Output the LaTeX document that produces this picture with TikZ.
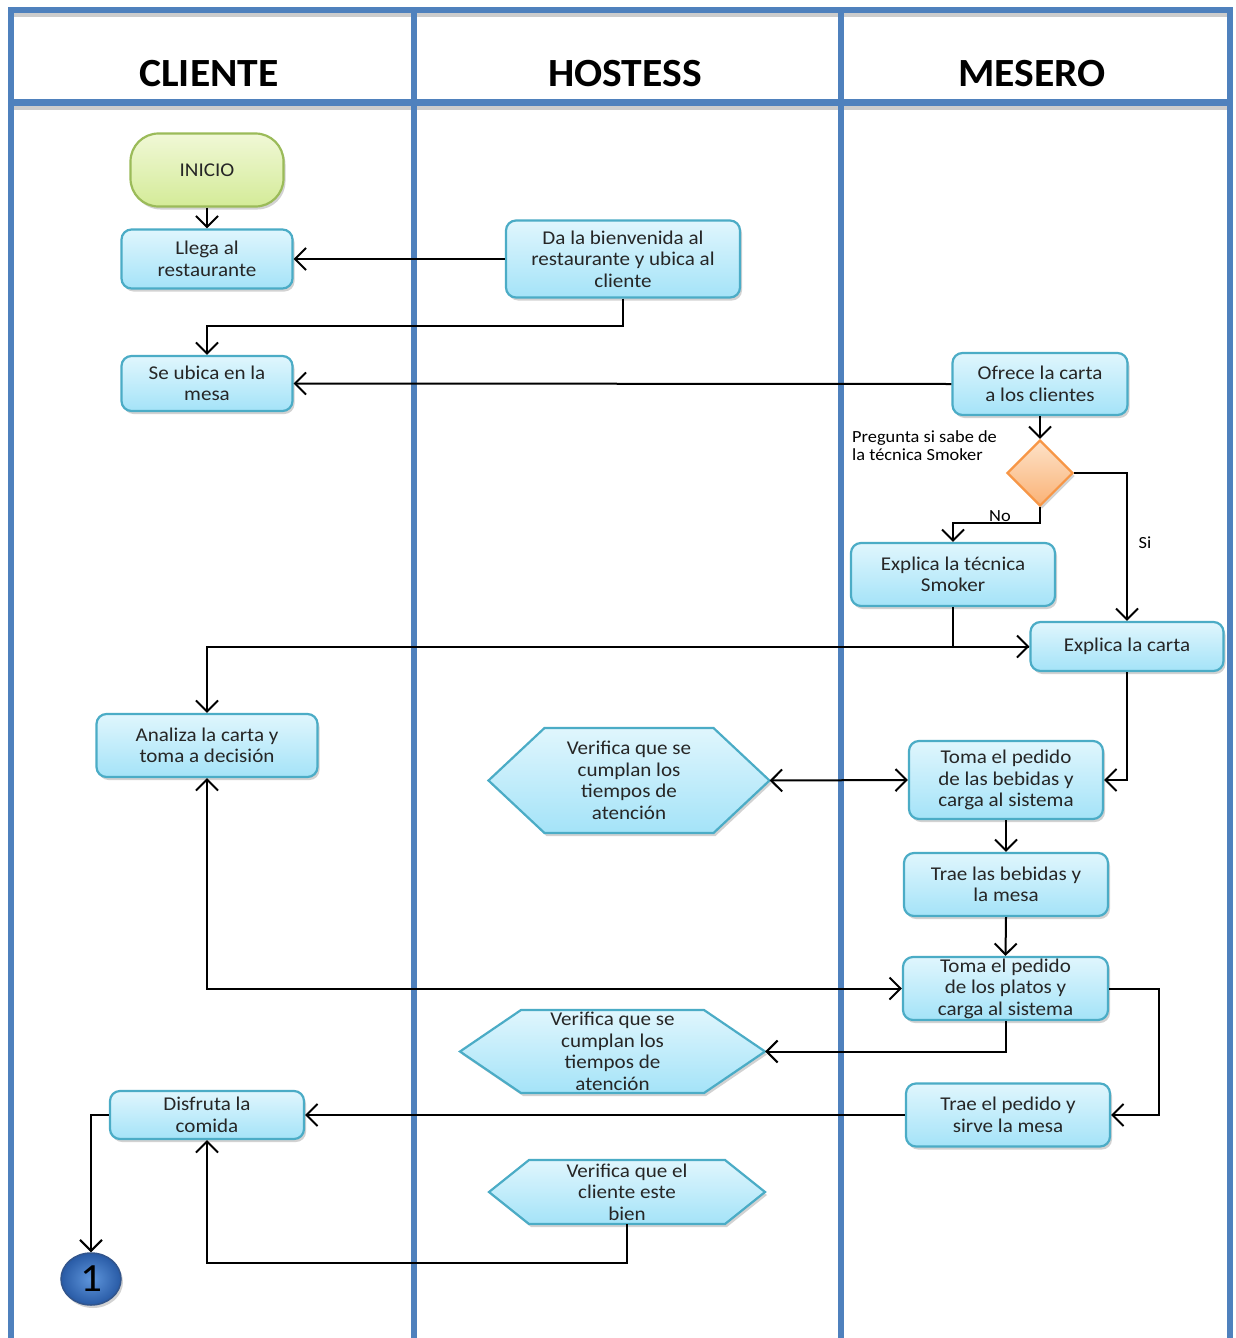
\documentclass[tikz,border=0pt]{standalone}
\usepackage{fontspec}
\setmainfont{Carlito}[FakeStretch=1.08]
\newfontfamily\hdrfont{Carlito}[FakeStretch=1.04]
\usetikzlibrary{arrows.meta,shapes.geometric,shadows,calc}
\definecolor{lane}{RGB}{79,129,189}
\definecolor{boxtop}{RGB}{224,246,253}
\definecolor{boxbot}{RGB}{164,227,248}
\definecolor{boxline}{RGB}{75,172,198}
\definecolor{gtop}{RGB}{240,248,214}
\definecolor{gbot}{RGB}{212,235,152}
\definecolor{gline}{RGB}{155,187,89}
\definecolor{otop}{RGB}{253,226,200}
\definecolor{obot}{RGB}{250,178,118}
\definecolor{oline}{RGB}{247,150,70}
\definecolor{txt}{RGB}{38,38,38}
\definecolor{ballin}{RGB}{95,150,220}
\definecolor{ballout}{RGB}{40,90,165}
\newcommand\hexnode[7]{%
  \path[hexfill] ({#2-#4/2},#3) -- ({#2-#4/2+#6},{#3-#5/2}) -- ({#2+#4/2-#6},{#3-#5/2}) -- ({#2+#4/2},#3) -- ({#2+#4/2-#6},{#3+#5/2}) -- ({#2-#4/2+#6},{#3+#5/2}) -- cycle;
  \node[hextext, minimum width=#4pt, minimum height=#5pt] (#1) at (#2,#3) {#7};}
\begin{document}
\begin{tikzpicture}[x=1pt,y=-1pt,
  every node/.style={text=txt},
  shad/.style={drop shadow={opacity=0.35, shadow xshift=2pt, shadow yshift=-3pt}},
  proc/.style={draw=boxline, line width=2.2pt, rounded corners=10pt, top color=boxtop, bottom color=boxbot, shad, align=center, inner sep=0pt, font=\fontsize{19.5}{21.5}\selectfont},
  startbox/.style={draw=gline, line width=2.2pt, rounded corners=28pt, top color=gtop, bottom color=gbot, shad, align=center, inner sep=0pt, font=\fontsize{19.5}{21.5}\selectfont},
  hexfill/.style={draw=boxline, line width=2.2pt, top color=boxtop, bottom color=boxbot, shad},
  hextext/.style={inner sep=0pt, align=center, font=\fontsize{19.5}{21.5}\selectfont},
  decis/.style={diamond, draw=oline, line width=2.2pt, top color=otop, bottom color=obot, shad, inner sep=0pt, minimum width=66pt, minimum height=66pt},
  hdr/.style={font=\hdrfont\fontsize{40}{44}\selectfont\bfseries, text=black},
  lbl/.style={inner sep=0pt, font=\fontsize{17}{18}\selectfont, text=black},
  arr/.style={-{Straight Barb[length=11pt,width=22pt]}, line width=2pt, black},
  darr/.style={{Straight Barb[length=11pt,width=22pt]}-{Straight Barb[length=11pt,width=22pt]}, line width=2pt, black},
  lanel/.style={lane, line width=6pt}
]
\useasboundingbox (0,0) rectangle (1235,1338);
\fill[white] (0,0) rectangle (1235,1338);
% lane shadows
\draw[black!20, line width=4pt] (14,15) -- (1227,15);
\draw[black!20, line width=4pt] (14,108) -- (1227,108);
% lanes
\draw[lanel] (11,1338) -- (11,10) -- (1230,10) -- (1230,1338);
\draw[lanel] (414,10) -- (414,1338);
\draw[lanel] (841,10) -- (841,1338);
\draw[lane, line width=7pt] (11,102) -- (1230,102);
% headers
\node[hdr] (hcli) at (209,74) {CLIENTE};
\node[hdr] (hhos) at (625,74) {HOSTESS};
\node[hdr] (hmes) at (1032,74) {MESERO};
% nodes
\node[startbox, minimum width=153pt, minimum height=73pt] (inicio) at (207,170) {INICIO};
\node[proc, minimum width=171pt, minimum height=59pt] (llega) at (207,259) {Llega al\\restaurante};
\node[proc, minimum width=234pt, minimum height=77pt] (bien) at (623,259) {Da la bienvenida al\\restaurante y ubica al\\cliente};
\node[proc, minimum width=171pt, minimum height=55pt] (ubica) at (207,383.5) {Se ubica en la\\mesa};
\node[proc, minimum width=175pt, minimum height=62pt] (ofrece) at (1040,384) {Ofrece la carta\\a los clientes};
\node[decis] (dia) at (1040,473) {};
\node[lbl, anchor=west, align=left] (preg) at (852,446) {Pregunta si sabe de\\la técnica Smoker};
\node[proc, minimum width=204pt, minimum height=63pt] (smoker) at (953,574.5) {Explica la técnica\\Smoker};
\node[proc, minimum width=193pt, minimum height=49pt] (ecarta) at (1127,646.5) {Explica la carta};
\node[proc, minimum width=221pt, minimum height=63pt] (analiza) at (207,745.5) {Analiza la carta y\\toma a decisión};
\hexnode{hexa}{629}{780.5}{281}{105}{56}{Verifica que se\\cumplan los\\tiempos de\\atención}
\node[proc, minimum width=194pt, minimum height=78pt] (bebidas) at (1006,780) {Toma el pedido\\de las bebidas y\\carga al sistema};
\node[proc, minimum width=204pt, minimum height=63pt] (trae) at (1006,884.5) {Trae las bebidas y\\la mesa};
\node[proc, minimum width=205pt, minimum height=63pt] (platos) at (1005.5,988.5) {Toma el pedido\\de los platos y\\carga al sistema};
\hexnode{hexb}{612.5}{1051.5}{305}{83}{61}{Verifica que se\\cumplan los\\tiempos de\\atención}
\node[proc, minimum width=204pt, minimum height=63pt] (pedido) at (1008,1115) {Trae el pedido y\\sirve la mesa};
\node[proc, minimum width=194pt, minimum height=48pt] (disfruta) at (207,1115) {Disfruta la\\comida};
\hexnode{hexc}{627}{1192}{276}{64}{40}{Verifica que el\\cliente este\\bien}
\node[ellipse, draw={rgb,255:red,50;green,85;blue,140}, line width=1.5pt, inner color=ballin, outer color=ballout, minimum width=60pt, minimum height=52pt, inner sep=0pt, shad, font=\fontsize{40}{40}\selectfont, text=black] (uno) at (91,1279) {1};
% labels
\node[lbl] (lno) at (1000,516) {No};
\node[lbl] (lsi) at (1145,543) {Si};
% connectors
\draw[arr] (inicio) -- (llega);
\draw[arr] (bien.west) -- (llega.east);
\draw[arr] (bien.south) |- ($(ubica.north)+(0,-29)$) -- (ubica.north);
\draw[arr] (ofrece.west) -- (ubica.east);
\draw[arr] (ofrece.south) -- (dia.north);
\draw[arr] (dia.south) |- ($(smoker.north)+(0,-19)$) -- (smoker.north);
\draw[arr] (dia.east) -| (ecarta.north);
\draw[arr] (smoker.south) |- (ecarta.west);
\draw[arr] (ecarta.west) -| (analiza.north);
\draw[arr] (ecarta.south) |- (bebidas.east);
\draw[darr] (hexa.east) -- (bebidas.west);
\draw[arr] (bebidas.south) -- (trae.north);
\draw[arr] (trae.south) -- (platos.north);
\draw[darr] (analiza.south) |- (platos.west);
\draw[arr] (platos.south) |- (hexb.east);
\draw[arr] (platos.east) -- ++(50,0) |- (pedido.east);
\draw[arr] (pedido.west) -- (disfruta.east);
\draw[arr] (hexc.south) -- ++(0,39) -| (disfruta.south);
\draw[arr] (disfruta.west) -| (uno.north);
\end{tikzpicture}
\end{document}
